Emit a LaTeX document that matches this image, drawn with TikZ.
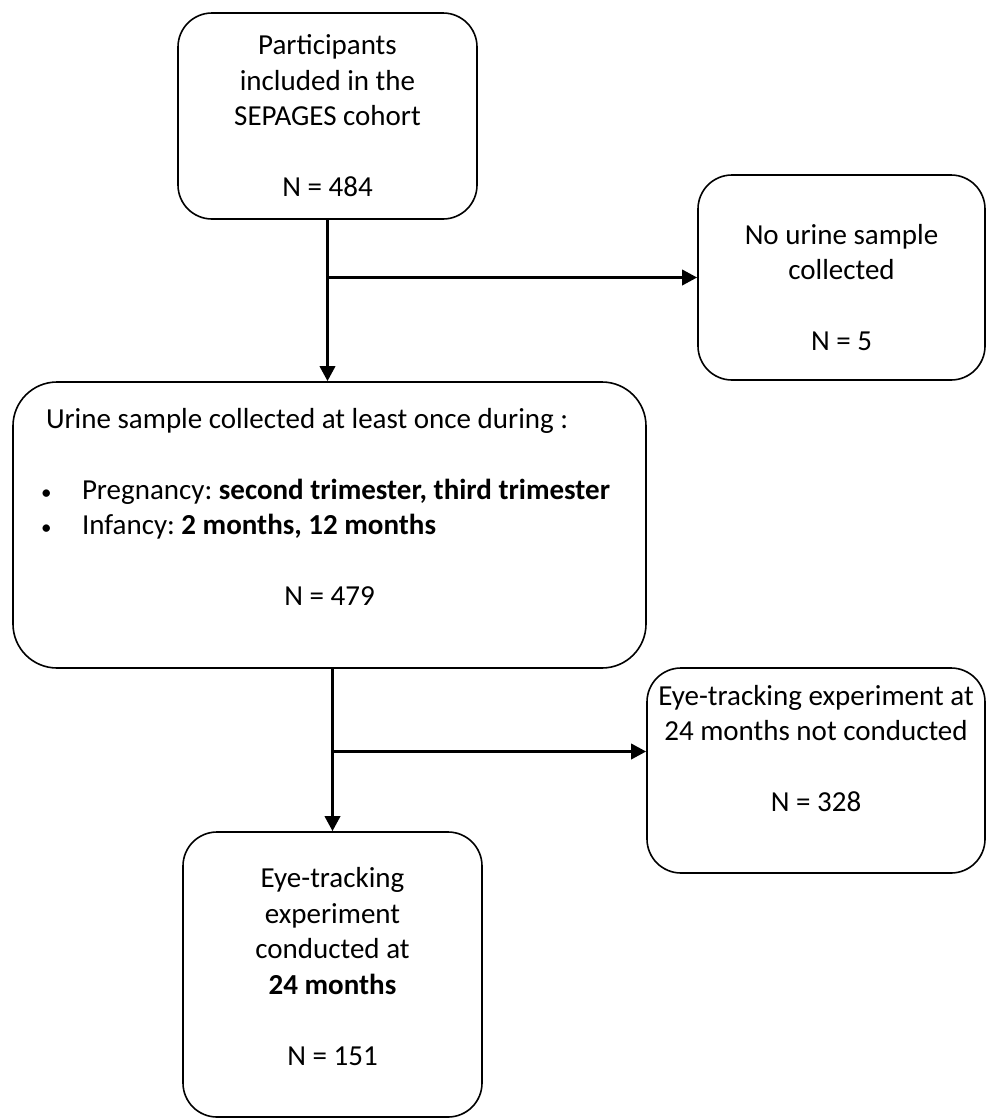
\documentclass[tikz,border=0pt]{standalone}
\usepackage{fontspec}
\setmainfont{Carlito}
\usepackage{tikz}
\usetikzlibrary{arrows.meta}
\frenchspacing

\newcommand{\smallbullet}{\makebox[36pt][l]{\hspace*{-5pt}{\fontsize{21}{21}\selectfont\textbullet}}}

\begin{document}
\begin{tikzpicture}[
            x = 1pt, y = -1pt,
            flowbox/.style = {
                draw, rounded corners = 34pt,
                line width = 1.6pt,
                align = center,
                inner sep = 0pt,
                font = \fontsize{29}{35.5}\selectfont,
            },
            flowarrow/.style = {
                line width = 3.4pt,
                -{Triangle[length = 15pt, width = 15pt]},
            },
        ]
        \useasboundingbox (0,0) rectangle (987,1119);

        % Boxes
        \node[flowbox, minimum width = 299pt, minimum height = 206pt] (partic) at (327.5,116)
            {Participants\\included in the\\SEPAGES cohort\\[35.5pt]N = 484};
        \node[flowbox, minimum width = 287pt, minimum height = 205pt] (noUrine) at (841.5,277.5)
            {\rule{0pt}{40pt}No urine sample\\collected\\[35.5pt]N = 5};
        \node[flowbox, rounded corners = 44pt, align = none, text width = 567pt,
              inner xsep = 33pt, minimum height = 286pt] (urine) at (329.5,525)
            {\setlength\parindent{0pt}\raggedright
             Urine sample collected at least once during :\par\vspace{35.5pt}
             \smallbullet Pregnancy: \textbf{second trimester, third trimester}\par
             \smallbullet Infancy: \textbf{2 months, 12 months}\par\vspace{35.5pt}
             \centering N = 479\rule[-36pt]{0pt}{1pt}\par};
        \node[flowbox, minimum width = 338pt, minimum height = 205pt] (noET) at (816,770.5)
            {Eye-tracking experiment at\\24 months not conducted\\[35.5pt]N = 328\rule[-44pt]{0pt}{1pt}};
        \node[flowbox, minimum width = 299pt, minimum height = 285pt] (followup) at (332.5,974.5)
            {Eye-tracking\\experiment\\conducted at\\\textbf{24 months}\\[35.5pt]N = 151\rule[-16pt]{0pt}{1pt}};

        % Arrows
        \coordinate (split1) at (partic.south |- noUrine.west);
        \coordinate (entry2) at ([yshift = 19pt]noET.west);
        \coordinate (split2) at (followup.north |- entry2);

        \draw[flowarrow] (partic.south) -- (partic.south |- urine.north);
        \draw[flowarrow] (split1) -- (noUrine.west);
        \draw[flowarrow] (followup.north |- urine.south) -- (followup.north);
        \draw[flowarrow] (split2) -- (entry2);
    \end{tikzpicture}
\end{document}
